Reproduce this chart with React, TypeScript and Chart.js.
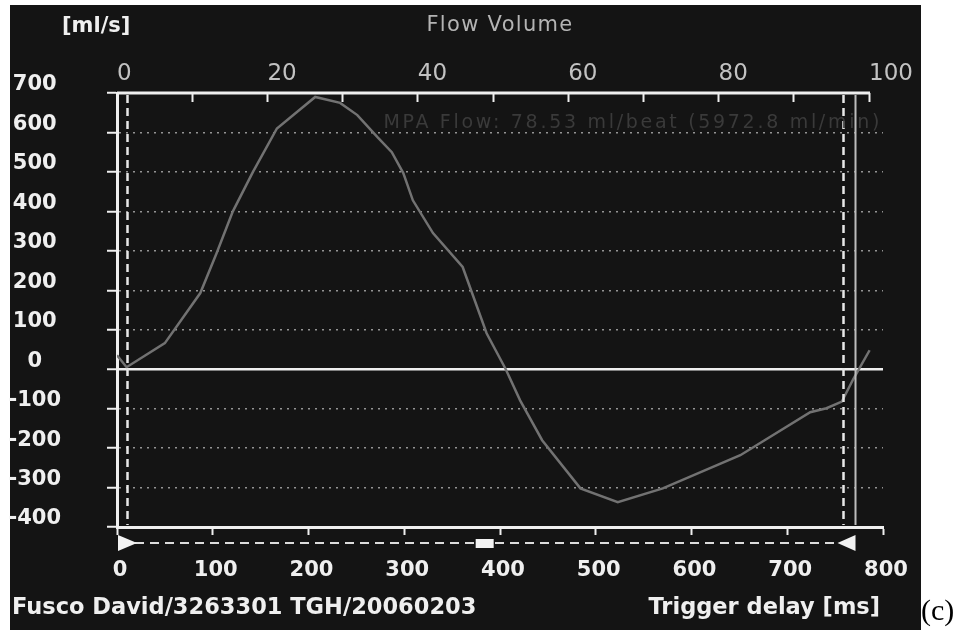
import React, { useEffect, useRef } from 'react';
import { Chart, registerables } from 'chart.js';

Chart.register(...registerables);

// ---- data ----
const delayMs = [0, 10, 50, 87, 104, 121, 142, 167, 207, 233, 251, 272, 287, 299, 309, 330, 361, 386, 406, 421, 444, 484, 523, 570, 651, 724, 741, 757, 769, 786];
const flowMlPerS = [35, 5, 66, 193, 294, 400, 500, 610, 690, 675, 644, 588, 550, 497, 428, 345, 259, 91, 0, -79, -180, -302, -337, -302, -218, -109, -99, -82, -25, 48];

const bottomTicks = [0, 100, 200, 300, 400, 500, 600, 700, 800];
const topTicks = [0, 10, 20, 30, 40, 50, 60, 70, 80, 90, 100];
const topLabelEvery = 20;
const yTicks = [-400, -300, -200, -100, 0, 100, 200, 300, 400, 500, 600, 700];

const triggerStartMs = 10;
const triggerEndMs = 758;
const cursorMs = 771;
const windowMarkerMs = 384;
const topAxisMax = 101.86;

const unitText = '[ml/s]';
const titleText = 'Flow Volume';
const flowText = 'MPA Flow: 78.53 ml/beat (5972.8 ml/min)';
const patientText = 'Fusco David/3263301 TGH/20060203';
const xAxisText = 'Trigger delay [ms]';
const panelText = '(c)';

const FONT = '"DejaVu Sans", Verdana, sans-serif';
const WHITE = '#efefef';
const BG = '#141414';

const decorPlugin = {
  id: 'decor',
  beforeDraw(chart: any) {
    const { ctx, width, height } = chart;
    ctx.save();
    ctx.fillStyle = '#ffffff';
    ctx.fillRect(0, 0, width, height);
    ctx.fillStyle = BG;
    ctx.fillRect(10, 5, 911, height - 5);
    ctx.restore();
  },
  afterDraw(chart: any) {
    const { ctx, chartArea } = chart;
    const xs = chart.scales.x;
    const x2 = chart.scales.x2;
    const top = chartArea.top;
    const bottom = chartArea.bottom;
    ctx.save();

    // top axis line (0..100)
    ctx.strokeStyle = WHITE;
    ctx.lineWidth = 3;
    ctx.beginPath();
    ctx.moveTo(x2.getPixelForValue(0), top);
    ctx.lineTo(x2.getPixelForValue(100) + 1, top);
    ctx.stroke();

    // vertical dashed trigger lines
    ctx.setLineDash([8, 5]);
    ctx.lineWidth = 2.5;
    ctx.strokeStyle = '#e8e8e8';
    [triggerStartMs, triggerEndMs].forEach((v) => {
      const px = Math.round(xs.getPixelForValue(v)) + 0.5;
      ctx.beginPath();
      ctx.moveTo(px, top + 2);
      ctx.lineTo(px, bottom - 2);
      ctx.stroke();
    });
    ctx.setLineDash([]);

    // cursor solid line
    const cx = Math.round(xs.getPixelForValue(cursorMs)) + 0.5;
    ctx.strokeStyle = '#bdbdbd';
    ctx.lineWidth = 2;
    ctx.beginPath();
    ctx.moveTo(cx, top + 2);
    ctx.lineTo(cx, bottom - 2);
    ctx.stroke();

    // bottom dashed range line with markers
    const by = bottom + 16;
    const x0 = xs.getPixelForValue(0);
    ctx.strokeStyle = '#dcdcdc';
    ctx.lineWidth = 2;
    ctx.setLineDash([9, 6]);
    ctx.beginPath();
    ctx.moveTo(x0 + 18, by);
    ctx.lineTo(cx - 17, by);
    ctx.stroke();
    ctx.setLineDash([]);
    ctx.fillStyle = '#f2f2f2';
    ctx.beginPath();
    ctx.moveTo(x0 + 1, by - 8);
    ctx.lineTo(x0 + 20, by);
    ctx.lineTo(x0 + 1, by + 8);
    ctx.closePath();
    ctx.fill();
    ctx.beginPath();
    ctx.moveTo(cx, by - 8);
    ctx.lineTo(cx - 18, by);
    ctx.lineTo(cx, by + 8);
    ctx.closePath();
    ctx.fill();
    const mx = xs.getPixelForValue(windowMarkerMs);
    ctx.fillRect(mx - 9, by - 4, 18, 9);

    // texts
    ctx.textBaseline = 'middle';
    ctx.fillStyle = WHITE;
    ctx.font = `bold 21px ${FONT}`;
    ctx.textAlign = 'left';
    ctx.fillText(unitText, 62, 27);

    ctx.fillStyle = '#b4b4b4';
    ctx.font = `21px ${FONT}`;
    ctx.textAlign = 'center';
    (ctx as any).letterSpacing = '1.3px';
    ctx.fillText(titleText, 500, 26);

    ctx.fillStyle = '#3a3a3a';
    ctx.font = `19px ${FONT}`;
    ctx.textAlign = 'right';
    (ctx as any).letterSpacing = '2.7px';
    ctx.fillText(flowText, 882, 123);
    (ctx as any).letterSpacing = '0px';

    ctx.fillStyle = WHITE;
    ctx.font = `bold 22.5px ${FONT}`;
    ctx.textAlign = 'left';
    ctx.fillText(patientText, 12, 608);
    ctx.textAlign = 'right';
    ctx.fillText(xAxisText, 880, 608);

    ctx.fillStyle = '#000000';
    ctx.font = `30px "Liberation Serif", "DejaVu Serif", serif`;
    ctx.textAlign = 'left';
    ctx.textBaseline = 'alphabetic';
    ctx.fillText(panelText, 921, 620);
    ctx.restore();
  },
};

export default function App() {
  const ref = useRef<HTMLCanvasElement | null>(null);

  useEffect(() => {
    document.body.style.margin = '0';
    const canvas = ref.current;
    if (!canvas) return;
    const points = delayMs.map((x, i) => ({ x, y: flowMlPerS[i] }));
    const tickFontBold = { family: FONT, size: 21, weight: 'bold' as const };

    const chart = new Chart(canvas, {
      type: 'line',
      data: {
        datasets: [
          {
            data: points,
            borderColor: '#727272',
            borderWidth: 2.5,
            pointRadius: 0,
            tension: 0,
            fill: false,
            xAxisID: 'x',
            yAxisID: 'y',
          },
        ],
      },
      options: {
        responsive: false,
        animation: false,
        devicePixelRatio: 1,
        layout: { padding: { left: 0, right: 76, top: 0, bottom: 0 } },
        plugins: { legend: { display: false }, tooltip: { enabled: false }, title: { display: false } },
        scales: {
          x: {
            type: 'linear',
            position: 'bottom',
            min: 0,
            max: 800,
            afterBuildTicks: (s: any) => {
              s.ticks = bottomTicks.map((v) => ({ value: v }));
            },
            afterFit: (s: any) => {
              s.height = 103;
            },
            grid: { drawOnChartArea: false, drawTicks: true, tickLength: 8, tickColor: WHITE, tickWidth: 2 },
            border: { display: true, color: WHITE, width: 3 },
            ticks: { color: WHITE, font: tickFontBold, padding: 23, labelOffset: 3, maxRotation: 0, autoSkip: false },
          },
          x2: {
            type: 'linear',
            position: 'top',
            min: 0,
            max: topAxisMax,
            afterBuildTicks: (s: any) => {
              s.ticks = topTicks.map((v) => ({ value: v }));
            },
            afterFit: (s: any) => {
              s.height = 93;
            },
            grid: { drawOnChartArea: false, drawTicks: true, tickLength: -9, tickColor: WHITE, tickWidth: 2 },
            border: { display: false },
            ticks: {
              align: 'start',
              callback: (v: any) => (Number(v) % topLabelEvery === 0 ? String(v) : ''),
              color: '#c2c2c2',
              font: { family: FONT, size: 23 },
              padding: 14,
              maxRotation: 0,
              autoSkip: false,
            },
          },
          y: {
            type: 'linear',
            position: 'left',
            min: -400,
            max: 700,
            afterBuildTicks: (s: any) => {
              s.ticks = yTicks.map((v) => ({ value: v }));
            },
            afterFit: (s: any) => {
              s.width = 117;
            },
            grid: {
              color: (c: any) => {
                const v = c.tick ? c.tick.value : null;
                if (v === 0) return WHITE;
                if (v === 700 || v === -400) return 'rgba(0,0,0,0)';
                return '#949494';
              },
              lineWidth: (c: any) => (c.tick && c.tick.value === 0 ? 2.5 : 1.5),
              tickLength: 10,
              tickColor: WHITE,
              tickWidth: 2,
            },
            border: {
              display: true,
              color: WHITE,
              width: 3,
              dash: (c: any) => (c.type === 'tick' && c.tick && c.tick.value !== 0 ? [2, 5] : []),
            },
            ticks: { color: WHITE, font: tickFontBold, crossAlign: 'center', labelOffset: -8, padding: 46 },
          },
        },
      } as any,
      plugins: [decorPlugin],
    });
    return () => chart.destroy();
  }, []);

  return <canvas ref={ref} width={959} height={630} style={{ display: 'block', width: 959, height: 630 }} />;
}
